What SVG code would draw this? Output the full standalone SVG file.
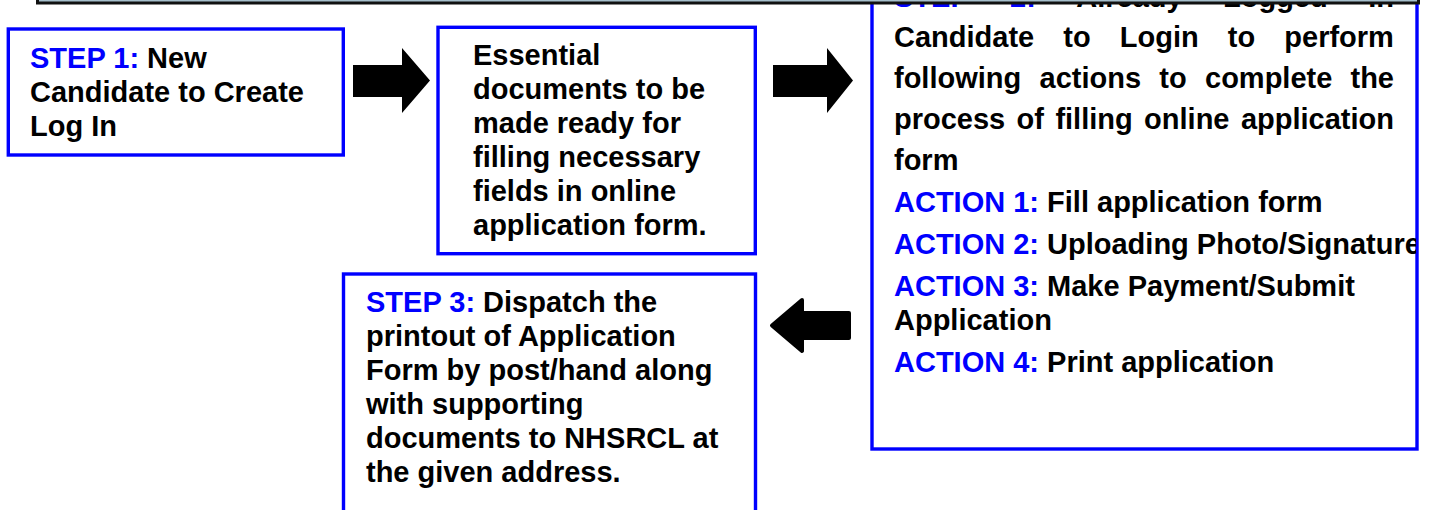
<svg xmlns="http://www.w3.org/2000/svg" width="1434" height="510" viewBox="0 0 1434 510">
  <style>
    .box { fill: #ffffff; stroke: #0000ff; stroke-width: 3.4; }
    .t { font-family: "Liberation Sans", Arial, sans-serif; font-weight: bold; font-size: 29px; fill: #000000; }
    .lab { fill: #0000ff; }
    .arrow { fill: #000000; }
    .arrow-round { fill: #000000; stroke: #000000; stroke-width: 4; stroke-linejoin: round; }
    .bar { fill: #a6bfcc; stroke: #111111; stroke-width: 3; }
  </style>
  <defs>
    <clipPath id="step2-clip">
      <rect x="872" y="-40" width="544" height="489"/>
    </clipPath>
  </defs>

  <rect x="0" y="0" width="1434" height="510" fill="#ffffff"/>

  <!-- STEP 1 -->
  <g id="node-step1">
    <rect class="box" x="8.3" y="29" width="335" height="126"/>
    <text class="t" x="30" y="67.5"><tspan class="lab">STEP 1:</tspan> New</text>
    <text class="t" x="30" y="101.5">Candidate to Create</text>
    <text class="t" x="30" y="135.5">Log In</text>
  </g>

  <!-- Documents to prepare -->
  <g id="node-documents">
    <rect class="box" x="438" y="27.3" width="317.3" height="226.4"/>
    <text class="t" x="473" y="65">Essential</text>
    <text class="t" x="473" y="99">documents to be</text>
    <text class="t" x="473" y="133">made ready for</text>
    <text class="t" x="473" y="167">filling necessary</text>
    <text class="t" x="473" y="201">fields in online</text>
    <text class="t" x="473" y="235">application form.</text>
  </g>

  <!-- STEP 2 (justified paragraph, then action list) -->
  <g id="node-step2">
    <rect class="box" x="872" y="-40" width="545" height="489"/>
    <g clip-path="url(#step2-clip)">
      <text class="t" y="7"><tspan class="lab" x="894">STEP</tspan><tspan class="lab" x="1010">2:</tspan><tspan x="1076.3">Already</tspan><tspan x="1223.1">Logged</tspan><tspan x="1368.2">In</tspan></text>
      <text class="t" y="47"><tspan x="894">Candidate</tspan><tspan x="1063.3">to</tspan><tspan x="1119.8">Login</tspan><tspan x="1227.8">to</tspan><tspan x="1284.3">perform</tspan></text>
      <text class="t" y="88"><tspan x="894">following</tspan><tspan x="1039.5">actions</tspan><tspan x="1159.3">to</tspan><tspan x="1205">complete</tspan><tspan x="1350.5">the</tspan></text>
      <text class="t" y="129"><tspan x="894">process</tspan><tspan x="1016.6">of</tspan><tspan x="1055.4">filling</tspan><tspan x="1144.1">online</tspan><tspan x="1240.9">application</tspan></text>
      <text class="t" x="894" y="170">form</text>
      <text class="t" x="894" y="212"><tspan class="lab">ACTION 1:</tspan> Fill application form</text>
      <text class="t" x="894" y="254"><tspan class="lab">ACTION 2:</tspan> Uploading Photo/Signature</text>
      <text class="t" x="894" y="296"><tspan class="lab">ACTION 3:</tspan> Make Payment/Submit</text>
      <text class="t" x="894" y="330">Application</text>
      <text class="t" x="894" y="372"><tspan class="lab">ACTION 4:</tspan> Print application</text>
    </g>
  </g>

  <!-- STEP 3 -->
  <g id="node-step3">
    <rect class="box" x="343.5" y="274" width="412" height="260"/>
    <text class="t" x="366" y="312"><tspan class="lab">STEP 3:</tspan> Dispatch the</text>
    <text class="t" x="366" y="346">printout of Application</text>
    <text class="t" x="366" y="380">Form by post/hand along</text>
    <text class="t" x="366" y="414">with supporting</text>
    <text class="t" x="366" y="448">documents to NHSRCL at</text>
    <text class="t" x="366" y="482">the given address.</text>
  </g>

  <!-- Block arrows between the steps -->
  <g id="connectors">
    <polygon class="arrow" points="353,65 402,65 402,48 430,80.5 402,113 402,97 353,97"/>
    <polygon class="arrow" points="773,65 827,65 827,48 853,80.5 827,113 827,97 773,97"/>
    <polygon class="arrow-round" points="849,313 802,313 802,300 772,325.5 802,351 802,338 849,338"/>
  </g>

  <!-- Header band along the top edge -->
  <g id="header-band">
    <rect class="bar" x="37.5" y="-30" width="1381" height="33"/>
  </g>
</svg>
